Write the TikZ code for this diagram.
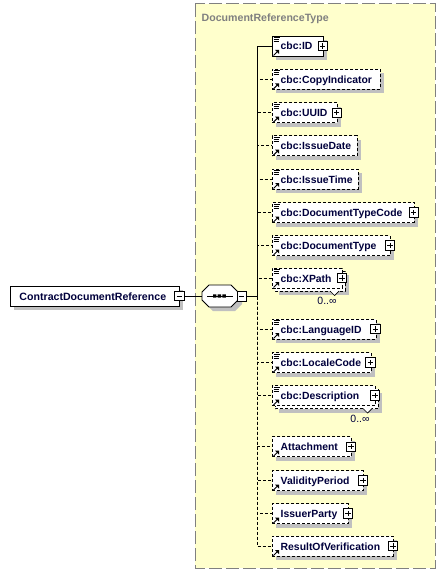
\documentclass[tikz,border=0pt]{standalone}
\usepackage{fontspec}
\setmainfont{Liberation Sans}
\definecolor{textc}{RGB}{0,0,60}
\definecolor{shc}{RGB}{192,192,192}
\definecolor{yel}{RGB}{255,255,204}
\definecolor{bordc}{RGB}{128,128,128}
\newcommand\xel[8]{%
  \ifnum#8=1
    \fill[shc] (279,#3-3) rectangle (#4+7,#3+17);
    \draw[fill=white,line width=.8pt,#5] (275,#3-7) rectangle (#4+3,#3+13);
  \else
    \fill[shc] (276,#3-6) rectangle (#4+4,#3+14);
  \fi
  \node[ebox,#5,minimum width={#4-272}] (#1) at (272,#3) {};
  \node[txt] (#1-t) at (280.5,#3+4) {#2};
  \ifnum#6=1
    \draw[line width=.9pt] (273.5,#3-8.5) -- +(6,0) (273.5,#3-6.5) -- +(5,0) (273.5,#3-4.5) -- +(5,0);
  \fi
  \fill (279,#3+4) -- (279,#3+8) -- (275,#3+4) -- cycle;
  \draw[line width=1pt] (273.5,#3+9.5) -- (277.5,#3+5.5);
  \ifnum#7=1
    \node[pm] (#1-p) at (#4,#3) {};
    \draw[line width=.8pt] (#1-p.center) +(-2.6,0) -- +(2.6,0) +(0,-2.6) -- +(0,2.6);
  \fi
  \ifnum#8=1
    \fill[white] (#4-12,#3+12.6) -- (#4-7.5,#3+17.5) -- (#4-3,#3+12.6) -- cycle;
    \draw[line width=.7pt] (#4-12,#3+13) -- (#4-7.5,#3+17.5) -- (#4-3,#3+13);
    \node[lbl] (#1-o) at (#4-15,#3+23) {0..∞};
  \fi
  \draw[conn,#5] (j) |- (#1.west);
}
\begin{document}
\begin{tikzpicture}[x=1pt,y=-1pt,
  txt/.style={font=\fontsize{10.4}{12}\selectfont\bfseries, text=textc, inner sep=0, anchor=base west},
  ttl/.style={font=\fontsize{10.6}{12}\selectfont\bfseries, text=bordc, inner sep=0, anchor=base west},
  lbl/.style={font=\fontsize{10.5}{12}\selectfont, text=textc, inner sep=0},
  ebox/.style={draw=black, fill=white, line width=0.8pt, inner sep=0, minimum height=20, anchor=west},
  opt/.style={dash pattern=on 3pt off 2pt},
  conn/.style={draw=black, line width=0.8pt},
  pm/.style={draw=black, fill=white, line width=0.7pt, minimum size=9.5, inner sep=0},
]
\useasboundingbox (0,0) rectangle (446,578);
\fill[white] (0,0) rectangle (446,578);
% container
\draw[draw=bordc, fill=yel, line width=1pt, dash pattern=on 13pt off 4pt] (195,4) rectangle (435,568);
\node[ttl] (title) at (201.5,21.5) {DocumentReferenceType};
% root element
\fill[shc] (14,290) rectangle (183.3,310);
\node[ebox, minimum width=169.3] (root) at (10,296) {};
\node[txt, font=\fontsize{10.6}{12}\selectfont\bfseries] (root-t) at (19.3,300.3) {ContractDocumentReference};
\node[pm] (rootm) at (179.3,296) {};
\draw[line width=.8pt] (rootm.center) +(-2.6,0) -- +(2.6,0);
% sequence compositor
\node[minimum width=36, minimum height=22, inner sep=0] (seq) at (220,296) {};
\fill[shc] (213,289) -- (235,289) -- (242,296) -- (242,304) -- (235,311) -- (213,311) -- (206,304) -- (206,296) -- cycle;
\draw[fill=white, line width=.8pt] (209,285) -- (231,285) -- (238,292) -- (238,300) -- (231,307) -- (209,307) -- (202,300) -- (202,292) -- cycle;
\draw[line width=1pt] (207,296) -- (233,296);
\fill (213,294.3) rectangle (216.4,297.7) (217.7,294.3) rectangle (221.1,297.7) (222.4,294.3) rectangle (225.8,297.7);
\node[pm] (seqm) at (241.7,296.5) {};
\draw[line width=.8pt] (seqm.center) +(-2.6,0) -- +(2.6,0);
\draw[conn] (rootm.east) -- (seq.west);
\coordinate (j) at (257,296.5);
\draw[conn] (seqm.east) -- (j);
% children
\xel{id}{cbc:ID}{46}{322.7}{solid}{1}{1}{0}
\xel{ci}{cbc:CopyIndicator}{79.3}{380}{opt}{1}{0}{0}
\xel{uuid}{cbc:UUID}{112.7}{336.7}{opt}{1}{1}{0}
\xel{idate}{cbc:IssueDate}{145.7}{357}{opt}{1}{0}{0}
\xel{itime}{cbc:IssueTime}{179}{358}{opt}{1}{0}{0}
\xel{dtc}{cbc:DocumentTypeCode}{212.5}{413.7}{opt}{1}{1}{0}
\xel{dt}{cbc:DocumentType}{245.5}{390}{opt}{1}{1}{0}
\xel{xp}{cbc:XPath}{278}{342}{opt}{1}{1}{1}
\xel{lid}{cbc:LanguageID}{329}{375.5}{opt}{1}{1}{0}
\xel{lc}{cbc:LocaleCode}{362.5}{370.5}{opt}{1}{1}{0}
\xel{desc}{cbc:Description}{395.5}{375}{opt}{1}{1}{1}
\xel{att}{Attachment}{446.7}{351}{opt}{0}{1}{0}
\xel{vp}{ValidityPeriod}{480.5}{363}{opt}{0}{1}{0}
\xel{ip}{IssuerParty}{513.5}{348}{opt}{0}{1}{0}
\xel{rov}{ResultOfVerification}{546}{393}{opt}{0}{1}{0}
\end{tikzpicture}
\end{document}
